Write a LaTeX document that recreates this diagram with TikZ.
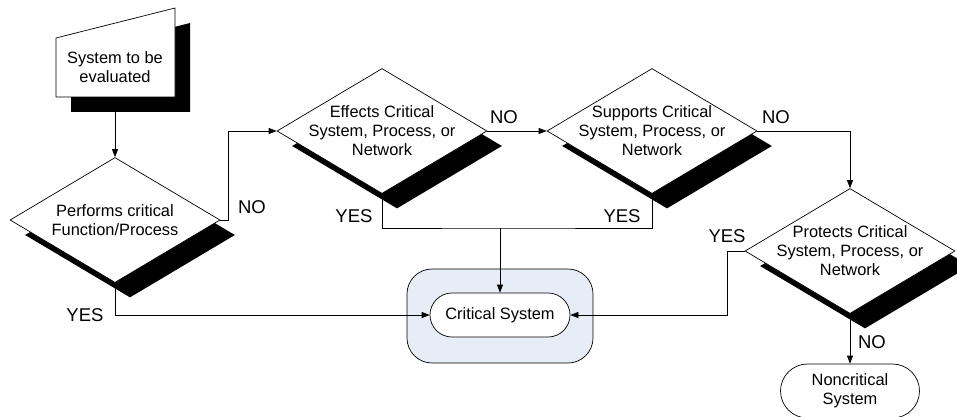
\documentclass[tikz,border=0pt]{standalone}
\usepackage{fontspec}
\setmainfont{Liberation Sans}
\usepackage{tikz}
\usetikzlibrary{shapes.geometric}
\usetikzlibrary{shapes.misc}
\usetikzlibrary{shadows}
\usetikzlibrary{arrows.meta}
\definecolor{critbg}{RGB}{231,237,246}

\begin{document}
\begin{tikzpicture}[x=1pt,y=-1pt,line width=0.7pt,
  every node/.style={font=\fontsize{16.4}{19}\selectfont},
  dia/.style={diamond,draw,fill=white,inner sep=0pt,minimum width=210pt,minimum height=125pt,
    drop shadow={shadow xshift=15pt,shadow yshift=-15pt,fill=black,opacity=1}},
  term/.style={rounded rectangle,draw,fill=white,align=center,inner sep=0pt},
  txt/.style={align=center,inner sep=0pt},
  lbl/.style={inner sep=0pt,font=\fontsize{18.5}{21}\selectfont},
  arr/.style={-{Triangle[length=8pt,width=6pt]}}]
\useasboundingbox (0,0) rectangle (957,417);

% start
\fill[black] (71,53) -- (190,23) -- (190,112) -- (71,112) -- cycle;
\filldraw[fill=white,draw=black] (56,38) -- (175,8) -- (175,97) -- (56,97) -- cycle;
\node[txt] (doc) at (115,67) {System to be\\evaluated};
\coordinate (docbot) at (115,112);

% decisions
\node[dia] (d1) at (115,220) {};
\node[txt] (d1txt) at (d1) {Performs critical\\Function/Process};
\node[dia] (d2) at (382,131) {};
\node[txt] (d2txt) at (d2) {Effects Critical\\System, Process, or\\Network};
\node[dia] (d3) at (652,131) {};
\node[txt] (d3txt) at (d3) {Supports Critical\\System, Process, or\\Network};
\node[dia] (d4) at (850,251) {};
\node[txt] (d4txt) at (d4) {Protects Critical\\System, Process, or\\Network};

% results
\node[draw,rounded corners=25pt,fill=critbg,minimum width=186pt,minimum height=94pt] (critbox) at (500,316) {};
\node[term,minimum width=140pt,minimum height=44pt] (crit) at (500,315) {Critical System};
\node[term,minimum width=139pt,minimum height=54pt] (noncrit) at (850,391) {Noncritical\\System};

% flow
\draw[arr] (docbot) -- (d1.north);
\draw[arr] (d1.east) -- ++(8,0) |- (d2.west);
\draw[arr] (d1.south) |- (crit.west);
\draw[arr] (d2.east) -- (d3.west);
\coordinate (yesjoin) at (500,228);
\draw (d2.south) |- (yesjoin) -| (d3.south);
\draw[arr] (yesjoin) -- (crit.north);
\draw[arr] (d3.east) -| (d4.north);
\draw[arr] (d4.west) -- ++(-17,0) |- (crit.east);
\draw[arr] (d4.south) -- (noncrit.north);

\node[lbl] (no1) at (252,207) {NO};
\node[lbl] (yes1) at (85,315) {YES};
\node[lbl] (no2) at (504,117) {NO};
\node[lbl] (yes2) at (354,216) {YES};
\node[lbl] (yes3) at (622,216) {YES};
\node[lbl] (no3) at (776,117) {NO};
\node[lbl] (yes4) at (727,236) {YES};
\node[lbl] (no4) at (872,342) {NO};

\end{tikzpicture}
\end{document}
